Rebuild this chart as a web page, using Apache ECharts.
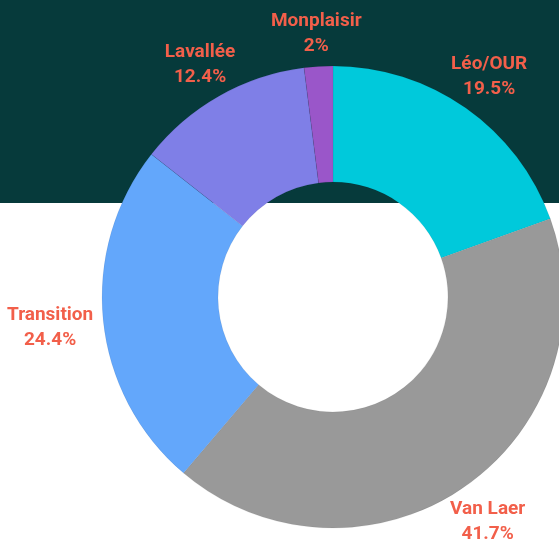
<!DOCTYPE html>
<html>
<head>
<meta charset="utf-8">
<script src="https://cdn.jsdelivr.net/npm/echarts@6/dist/echarts.min.js"></script>
<style>
  html, body { margin: 0; padding: 0; }
  #main {
    width: 559px; height: 547px;
    background: linear-gradient(#063a3b 0, #063a3b 203px, #ffffff 203px, #ffffff 100%);
  }
</style>
</head>
<body>
<div id="main"></div>
<script>
// donnees du graphique
var names = ['Léo/OUR', 'Van Laer', 'Transition', 'Lavallée', 'Monplaisir']
var shares = [19.5, 41.7, 24.4, 12.4, 2]
var colors = ['#00c9db', '#999999', '#63a7fb', '#7f7fe7', '#9a56c9']

var cx = 333
var cy = 297
var rOuter = 231
var labelGap = 10

var chart = echarts.init(document.getElementById('main'))

var total = shares.reduce(function (a, b) { return a + b }, 0)

// angle du milieu de chaque part (depuis midi, sens horaire)
function midAngle (idx) {
  var before = 0
  for (var i = 0; i < idx; i++) before += shares[i]
  return (before + shares[idx] / 2) / total * Math.PI * 2
}

var pieData = names.map(function (n, i) {
  return { name: n, value: shares[i], itemStyle: { color: colors[i] } }
})

chart.setOption({
  animation: false,
  series: [
    {
      type: 'pie',
      center: [cx, cy],
      radius: [115, rOuter],
      startAngle: 90,
      clockwise: true,
      avoidLabelOverlap: false,
      data: pieData,
      itemStyle: {
        borderColor: 'rgba(0,0,0,0.12)',
        borderWidth: 0.5
      },
      label: {
        show: true,
        position: 'outside',
        formatter: function (p) {
          return p.name + '\n' + p.value + '%'
        },
        color: '#f25f4a',
        fontFamily: 'Roboto',
        fontWeight: 'bold',
        fontSize: 19,
        lineHeight: 25
      },
      labelLine: { show: false },
      // on pose le bord de l'etiquette juste a l'exterieur de l'anneau
      labelLayout: function (params) {
        var a = midAngle(params.dataIndex)
        var sx = Math.sin(a)
        var sy = -Math.cos(a)
        var w = params.labelRect.width / 2
        var h = params.labelRect.height / 2
        var d = Math.min(
          Math.abs(sx) > 1e-6 ? w / Math.abs(sx) : Infinity,
          Math.abs(sy) > 1e-6 ? h / Math.abs(sy) : Infinity
        )
        var dist = rOuter + labelGap + d
        return {
          x: cx + sx * dist,
          y: cy + sy * dist + 2,
          align: 'center',
          verticalAlign: 'middle'
        }
      }
    }
  ]
})
</script>
</body>
</html>
